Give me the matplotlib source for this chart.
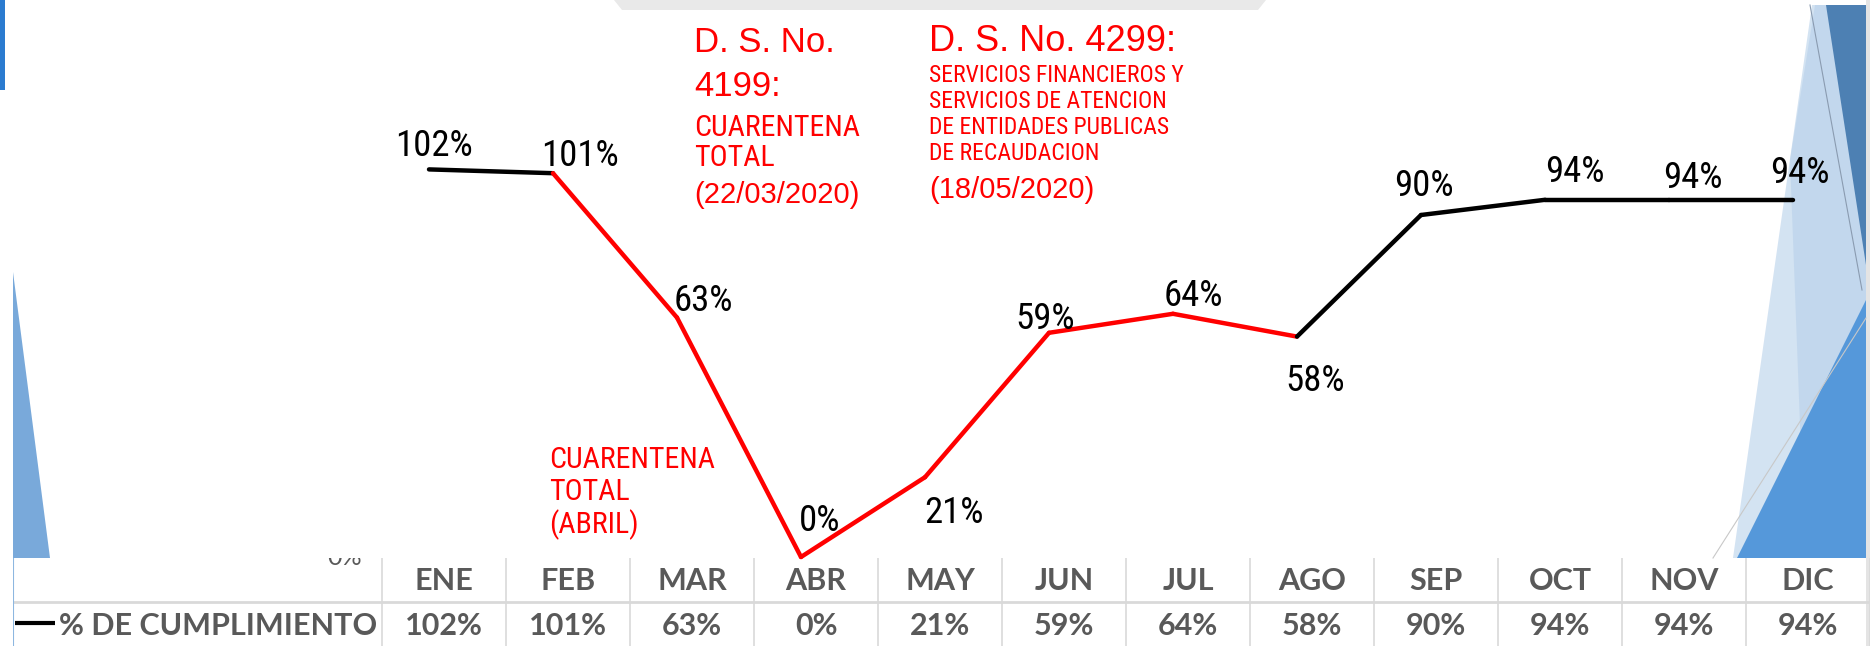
import matplotlib
matplotlib.use('Agg')
import matplotlib.pyplot as plt
from matplotlib.patches import Polygon

# ---------------- data ----------------
months = ["ENE", "FEB", "MAR", "ABR", "MAY", "JUN", "JUL", "AGO", "SEP", "OCT", "NOV", "DIC"]
cumplimiento = [102, 101, 63, 0, 21, 59, 64, 58, 90, 94, 94, 94]
segment_colors = ["black", "red", "red", "red", "red", "red", "red",
                  "black", "black", "black", "black"]
series_name = "% DE CUMPLIMIENTO"

ann_4199 = ["D. S. No.", "4199:"]
ann_4199_sub = ["CUARENTENA", "TOTAL"]
ann_4199_date = "(22/03/2020)"
ann_4299 = "D. S. No. 4299:"
ann_4299_sub = ["SERVICIOS FINANCIEROS Y", "SERVICIOS DE ATENCION",
                "DE ENTIDADES PUBLICAS", "DE RECAUDACION"]
ann_4299_date = "(18/05/2020)"
ann_abril = ["CUARENTENA", "TOTAL", "(ABRIL)"]

# ---------------- setup ----------------
W, H = 1870, 646
fig = plt.figure(figsize=(W / 100, H / 100), dpi=100)
fig.patch.set_facecolor('white')

NARROW = ['Liberation Sans Narrow', 'Roboto Condensed', 'Liberation Sans']
REG = ['Liberation Sans', 'DejaVu Sans']
TABLE = ['Lato', 'DejaVu Sans']
GREY = '#595959'
LINEC = '#d9d9d9'


def P(x, y):
    return (x / W, 1 - y / H)


def poly(pts, color, alpha=1.0, z=-5):
    fig.patches.append(Polygon([P(*p) for p in pts], closed=True, facecolor=color,
                               edgecolor='none', alpha=alpha, zorder=z,
                               transform=fig.transFigure))


def fline(pts, color, lw, z=-4):
    xs = [P(*p)[0] for p in pts]
    ys = [P(*p)[1] for p in pts]
    fig.lines.append(plt.Line2D(xs, ys, color=color, lw=lw, zorder=z,
                                transform=fig.transFigure))


# ---------------- decorations ----------------
poly([(614, 0), (1266, 0), (1258, 10), (622, 10)], '#e9e9e9')
poly([(0, 0), (5, 0), (5, 90), (0, 90)], '#2b7bd0')
poly([(13, 272), (13, 558), (50, 558)], '#79a9da')
# right side
poly([(1733, 558), (1812, 5), (1870, 5), (1870, 558)], '#d3e3f2')
poly([(1790, 160), (1815, 5), (1870, 5), (1870, 558), (1805, 558)], '#bcd3eb', alpha=0.7)
poly([(1826, 5), (1866, 5), (1866, 265)], '#4d80b3')
poly([(1737, 558), (1866, 300), (1866, 558)], '#5598da')
fline([(1713, 558), (1866, 318)], '#c8c8c8', 0.8)
fline([(1810, 5), (1862, 290)], '#8a9bb0', 0.8)
poly([(1866, 0), (1870, 0), (1870, 646), (1866, 646)], '#e4e4e4')

# ---------------- main line chart ----------------
ax = fig.add_axes([367 / W, 89 / H, 1488 / W, 557 / H])
ax.set_xlim(-0.5, len(months) - 0.5)
ax.set_ylim(0, 557 / 3.8)
ax.axis('off')

xs = list(range(len(months)))
for k, c in enumerate(segment_colors):
    ax.plot(xs[k:k + 2], cumplimiento[k:k + 2], color=c, lw=3.2,
            solid_capstyle='round', solid_joinstyle='round', clip_on=False)

# label offsets (pixels, label centre relative to point, up positive)
label_offsets = [(5, 26), (27, 20), (26, 20), (19, 39), (29, -33), (-4, 17),
                 (20, 21), (18, -41), (3, 32), (30, 31), (24, 25), (7, 30)]
for i, v in enumerate(cumplimiento):
    dx, dy = label_offsets[i]
    ax.annotate(f"{v}%", (i, v), xytext=(dx, dy - 13), textcoords='offset pixels',
                ha='center', va='baseline', fontsize=26.5, family=NARROW,
                color='black', annotation_clip=False)

# ---------------- data table ----------------
tax = fig.add_axes([13 / W, 0, (W - 13) / W, 88 / H])
tax.set_xlim(11.5 - (W - 13) / 124, 11.5)
tax.set_ylim(0, 1)
tax.axis('off')

for k in range(len(months) + 1):
    tax.plot([k - 0.5, k - 0.5], [0, 1], color=LINEC, lw=1.2)
tax.plot([0, 1], [0.5, 0.5], color=LINEC, lw=2, transform=tax.transAxes)
tax.plot([0, 0], [0, 1], color='#8db7e0', lw=1.5, transform=tax.transAxes)

for i, (m, v) in enumerate(zip(months, cumplimiento)):
    tax.text(i, 0.636, m, ha='center', va='baseline', fontsize=22,
             fontweight='bold', family=TABLE, color=GREY)
    tax.text(i, 0.125, f"{v}%", ha='center', va='baseline', fontsize=22,
             fontweight='bold', family=TABLE, color=GREY)

# legend key + series name
tax.plot([-3.46, -3.137], [0.261, 0.261], color='black', lw=3, solid_capstyle='butt')
tax.text(-3.105, 0.125, series_name, ha='left', va='baseline', fontsize=22,
         fontweight='bold', family=TABLE, color=GREY)
# hidden axis label peeking above the table
tax.text(-0.798, 0.92, "0%", ha='center', va='baseline', fontsize=18,
         family=TABLE, color=GREY, clip_on=True)

# ---------------- red annotations ----------------
RED = '#ff0000'


def ftext(x, y, s, size, fam, **kw):
    fig.text(*P(x, y), s, ha='left', va='baseline', fontsize=size, family=fam,
             color=RED, **kw)


ftext(694, 51.5, ann_4199[0], 25, REG)
ftext(694, 95.5, ann_4199[1], 25, REG)
ftext(694, 135.7, ann_4199_sub[0], 21.5, NARROW)
ftext(694, 165.7, ann_4199_sub[1], 21.5, NARROW)
ftext(694, 202.5, ann_4199_date, 21, REG)

ftext(929, 51, ann_4299, 26, REG)
for j, s in enumerate(ann_4299_sub):
    ftext(929, 81.5 + 26 * j, s, 17, NARROW)
ftext(929, 197.5, ann_4299_date, 21, REG)

for j, s in enumerate(ann_abril):
    ftext(549, 467.7 + 32.5 * j, s, 21.5, NARROW)

fig.savefig('out.png', dpi=100, facecolor='white')
